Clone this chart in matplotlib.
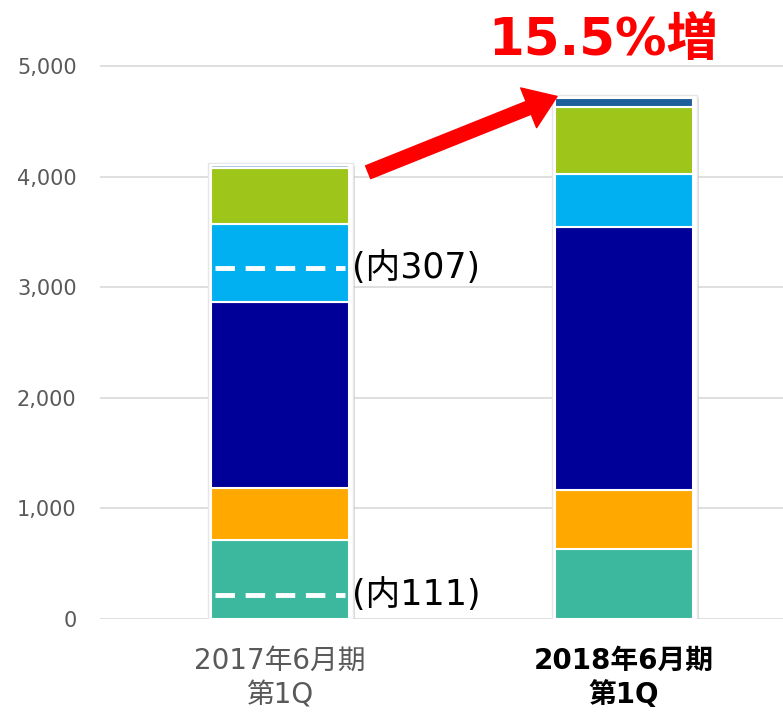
import numpy as np
import matplotlib.pyplot as plt
import matplotlib.patheffects as pe

plt.rcParams['font.family'] = ['DejaVu Sans', 'Noto Sans CJK JP']

## DATA
periods = ['2017年6月期\n第1Q', '2018年6月期\n第1Q']
seg_teal = [715, 633]
seg_orange = [470, 533]
seg_navy = [1680, 2378]
seg_lblue = [705, 480]
seg_green = [507, 605]
seg_top = [25, 85]
colors = ['#3BB89D', '#FFA800', '#000099', '#00B0F0', '#9DC51A']
top_colors = ['#A9C6E4', '#1F5F9C']

dash_levels = [217, 3174]          # lignes 内111 / 内307 sur la barre 2017
dash_labels = ['(内111)', '(内307)']
growth_label = '15.5%増'

## FIGURE
fig = plt.figure(figsize=(7.83, 7.14), dpi=100)
ax = fig.add_axes([0.128, 0.133, 0.872, 0.867])

x = np.arange(len(periods))
w = 0.4
segs = [seg_teal, seg_orange, seg_navy, seg_lblue, seg_green, seg_top]
totals = np.sum(segs, axis=0)

# fond blanc + ombre autour des barres
ax.bar(x, totals + 30, width=w + 0.022, bottom=-10, color='white',
       edgecolor='#e6e6e6', linewidth=1.0, zorder=2,
       path_effects=[pe.SimplePatchShadow(offset=(2, -2), shadow_rgbFace='#999999', alpha=0.35),
                     pe.Normal()])

bottom = np.zeros(len(periods))
for i, s in enumerate(segs):
    c = colors[i] if i < 5 else top_colors
    ax.bar(x, s, width=w, bottom=bottom, color=c, edgecolor='white',
           linewidth=1.5, zorder=3)
    bottom += np.array(s)

# lignes pointillées + textes
for lvl, lab in zip(dash_levels, dash_labels):
    ax.plot([x[0] - w / 2 + 0.01, x[0] + w / 2 - 0.01], [lvl, lvl], color='white',
            lw=3.5, dashes=(4, 2.2), zorder=4)
    ax.text(x[0] + w / 2 + 0.008, lvl, lab, fontsize=25, color='black',
            ha='left', va='center', zorder=5)

# flèche rouge
ax.annotate('', xy=(0.805, 4725), xytext=(0.256, 4040),
            arrowprops=dict(arrowstyle='simple,head_length=1.0,head_width=1.4,tail_width=0.45',
                            color='red', mutation_scale=22, shrinkA=0, shrinkB=0),
            zorder=6)
ax.text(0.94, 5225, growth_label, fontsize=37, fontweight='bold', color='#FF0000',
        ha='center', va='center', zorder=6)

## AXES
ax.set_ylim(0, 5597)
ax.set_xlim(-0.523, 1.462)
ax.set_yticks(np.arange(0, 6000, 1000))
ax.set_yticklabels([f'{v:,}' for v in range(0, 6000, 1000)])
ax.tick_params(axis='y', labelsize=15, labelcolor='#595959', length=0, pad=17)
ax.yaxis.grid(True, color='#d9d9d9', lw=1.2, zorder=0)
ax.set_axisbelow(True)
for sp in ax.spines.values():
    sp.set_visible(False)

ax.set_xticks(x)
ax.set_xticklabels(periods)
ax.tick_params(axis='x', length=0, pad=20)
lbls = ax.get_xticklabels()
for lb in lbls:
    lb.set_fontsize(20)
    lb.set_linespacing(1.3)
lbls[0].set_color('#595959')
lbls[1].set_fontweight('bold')
lbls[1].set_color('black')

plt.savefig('out.png', dpi=100)
